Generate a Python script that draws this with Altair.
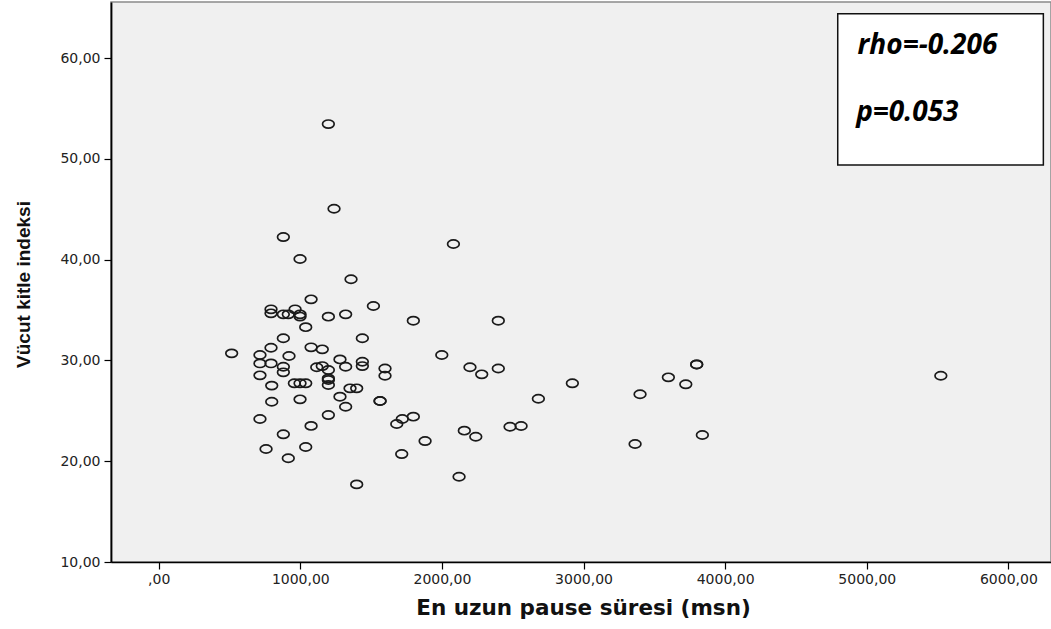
import altair as alt
import pandas as pd

# Data
pause_ms = [1198, 1238, 880, 998, 1358, 1076, 1516, 793, 793, 880,
            915, 963, 998, 998, 1198, 1320, 1798, 1038, 880, 1438,
            2081, 2398, 515, 715, 793, 920, 1076, 1155, 1999, 715,
            793, 880, 880, 1116, 1155, 1198, 1280, 1320, 1438, 1438,
            1598, 1598, 2198, 2281, 2398, 715, 1198, 1198, 1198, 958,
            998, 1038, 798, 1351, 1398, 2681, 1280, 1320, 1563, 1563,
            798, 998, 1198, 715, 1076, 1681, 1720, 1798, 880, 2158,
            2239, 2481, 2559, 1881, 758, 1038, 915, 1716, 2121, 1398,
            2921, 3399, 3599, 3722, 3799, 3799, 3364, 3839, 5523]
bmi = [53.45, 45.05, 42.24, 40.06, 38.05, 36.06, 35.4, 35.07, 34.67, 34.57,
       34.57, 35.07, 34.57, 34.35, 34.34, 34.57, 33.94, 33.3, 32.2, 32.2,
       41.55, 33.94, 30.7, 30.54, 31.26, 30.44, 31.3, 31.1, 30.54, 29.7,
       29.7, 29.37, 28.82, 29.32, 29.44, 29.05, 30.1, 29.37, 29.87, 29.44,
       29.2, 28.48, 29.32, 28.62, 29.2, 28.52, 28.22, 28.06, 27.56, 27.73,
       27.73, 27.73, 27.5, 27.23, 27.23, 26.2, 26.4, 25.4, 25.97, 25.97,
       25.9, 26.14, 24.58, 24.19, 23.5, 23.69, 24.19, 24.42, 22.67, 23.03,
       22.43, 23.42, 23.49, 22.0, 21.21, 21.41, 20.29, 20.71, 18.46, 17.7,
       27.73, 26.64, 28.32, 27.63, 29.6, 29.6, 21.71, 22.6, 28.48]

x_ticks = [0, 1000, 2000, 3000, 4000, 5000, 6000]
y_ticks = [10, 20, 30, 40, 50, 60]

x_domain = [-337, 6301]
y_domain = [10, 65.56]

# Annotation box (in data units) and its texts
box_x = [4795, 6247]
box_y = [49.4, 64.4]
stat_labels = ["rho=-0.206", "p=0.053"]
stat_x = [4935, 4925]
stat_y = [60.4, 53.8]

df = pd.DataFrame({"pause": pause_ms, "bmi": bmi})
box_df = pd.DataFrame({"x1": [box_x[0]], "x2": [box_x[1]], "y1": [box_y[0]], "y2": [box_y[1]]})
lab_df = pd.DataFrame({"label": stat_labels, "x": stat_x, "y": stat_y})

x_scale = alt.Scale(domain=x_domain, nice=False, zero=False)
y_scale = alt.Scale(domain=y_domain, nice=False, zero=False)

ELLIPSE = ("M-1,0C-1,-0.3866,-0.5523,-0.7,0,-0.7C0.5523,-0.7,1,-0.3866,1,0"
           "C1,0.3866,0.5523,0.7,0,0.7C-0.5523,0.7,-1,0.3866,-1,0Z")

x_axis = alt.Axis(
    values=x_ticks,
    labelExpr="datum.value === 0 ? ',00' : datum.value + ',00'",
    title="En uzun pause süresi (msn)",
    titleFont="DejaVu Sans", titleFontSize=21.5, titleFontWeight="bold",
    titleColor="#111", titleX=472, titleY=46, titleBaseline="middle", titleAlign="center",
    tickSize=7, tickColor="#000", tickWidth=1.2, domainColor="#000", domainWidth=1.5,
    grid=False, labelFont="DejaVu Sans", labelFontSize=14, labelColor="#222",
    labelPadding=3,
)
y_axis = alt.Axis(
    values=y_ticks,
    labelExpr="datum.value + ',00'",
    title="Vücut kitle indeksi",
    titleFont="Liberation Sans", titleFontSize=19,
    titleFontWeight="bold", titleColor="#111",
    titleAngle=270, titleX=-88, titleY=282, titleBaseline="middle", titleAlign="center",
    tickSize=7, tickColor="#000", tickWidth=1.2, domainColor="#000", domainWidth=1.8,
    grid=False, labelFont="DejaVu Sans", labelFontSize=14, labelColor="#222",
    labelPadding=4,
)

points = alt.Chart(df).mark_point(
    shape=ELLIPSE, size=136, filled=False, color="#1a1a1a", strokeWidth=1.7, opacity=1
).encode(
    x=alt.X("pause:Q", scale=x_scale, axis=x_axis),
    y=alt.Y("bmi:Q", scale=y_scale, axis=y_axis),
)

box = alt.Chart(box_df).mark_rect(fill="white", stroke="#111", strokeWidth=1.5).encode(
    x=alt.X("x1:Q", scale=x_scale), x2="x2:Q",
    y=alt.Y("y1:Q", scale=y_scale), y2="y2:Q",
)

labels = alt.Chart(lab_df).mark_text(
    font="Open Sans", fontSize=28, fontWeight="bold", fontStyle="italic",
    align="left", baseline="alphabetic", color="#000"
).encode(
    x=alt.X("x:Q", scale=x_scale),
    y=alt.Y("y:Q", scale=y_scale),
    text="label:N",
)

chart = alt.layer(points, box, labels).properties(
    width=940, height=560,
    autosize=alt.AutoSizeParams(type="none"),
    padding={"left": 111, "top": 2, "right": 0, "bottom": 67},
    background="white",
).configure_view(fill="#f0f0f0", stroke="#8a8a8a", strokeWidth=1.5)

chart.save("out.html", embed_options={"renderer": "svg", "actions": False})
